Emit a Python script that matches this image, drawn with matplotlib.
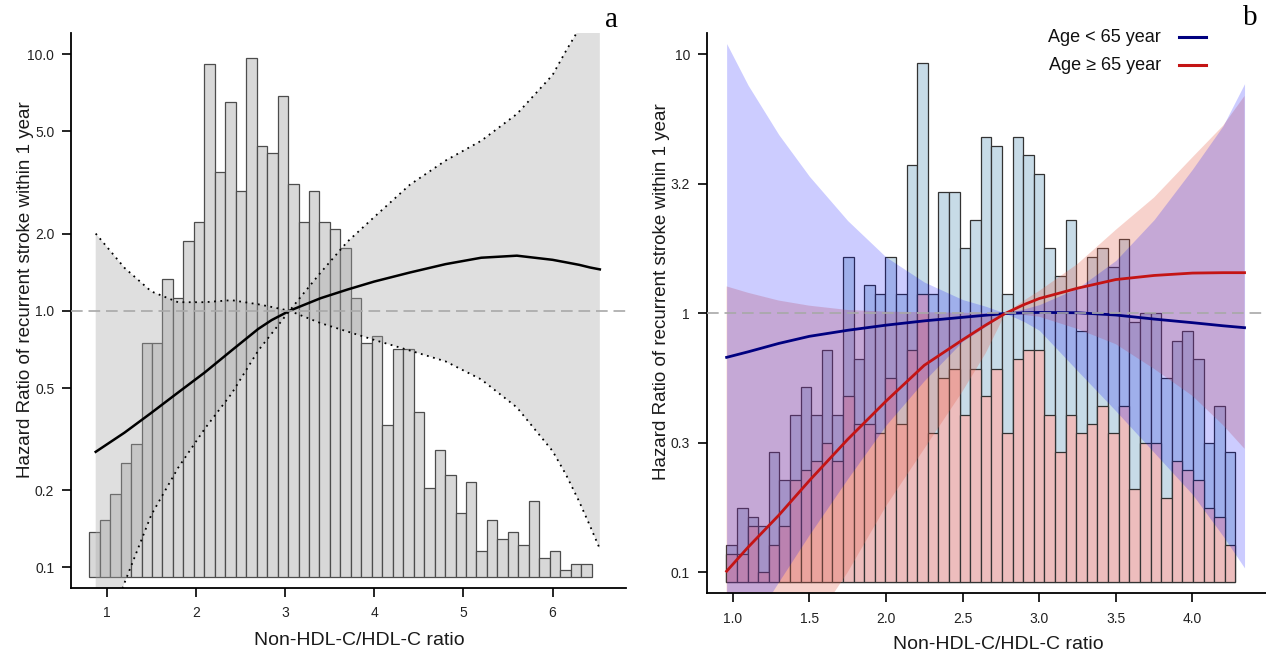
import numpy as np
import matplotlib
matplotlib.use('Agg')
from matplotlib import pyplot as plt
from matplotlib.lines import Line2D
from matplotlib.ticker import NullLocator

plt.rcParams['font.family'] = ['Liberation Sans', 'DejaVu Sans']

# ---------------- panel a : all patients ----------------
bins_a_lo, bins_a_hi = 0.804, 6.438
hist_a = [7, 9, 13, 18, 21, 37, 37, 47, 44, 53,
          56, 81, 64, 75, 61, 82, 68, 67, 76, 62,
          56, 61, 56, 55, 52, 44, 37, 38, 24, 36,
          36, 26, 14, 20, 16, 10, 15, 4, 9, 6,
          7, 5, 12, 3, 4, 1, 2, 2]

x_a = [0.877, 1.2, 1.5, 1.8, 2.1, 2.4, 2.7, 2.85, 3.05, 3.2, 3.4, 3.7,
       4.0, 4.4, 4.8, 5.2, 5.6, 6.0, 6.15, 6.3, 6.42, 6.53]
hr_a = [0.282, 0.335, 0.40, 0.48, 0.575, 0.70, 0.85, 0.92, 1.0, 1.05, 1.12, 1.21,
        1.30, 1.41, 1.52, 1.61, 1.64, 1.58, 1.545, 1.51, 1.475, 1.45]
ci_a_1 = [2.0, 1.47, 1.19, 1.08, 1.08, 1.10, 1.06, 1.035, 1.0, 0.953, 0.895, 0.83,
          0.77, 0.70, 0.635, 0.54, 0.42, 0.284, 0.23, 0.18, 0.145, 0.118]
ci_a_2 = [0.042, 0.087, 0.16, 0.244, 0.347, 0.475, 0.70, 0.815, 1.0, 1.16, 1.41, 1.86,
          2.32, 3.1, 3.85, 4.6, 5.85, 8.3, 10.3, 12.6, 15.5, 20.0]

# ---------------- panel b : by age group ----------------
bins_b_lo, bins_b_hi = 0.958, 4.28
hist_young = [4, 8, 7, 6, 14, 11, 18, 21, 18, 25,
              18, 35, 24, 32, 31, 35, 31, 45, 56, 31,
              42, 42, 36, 39, 48, 47, 31, 48, 46, 44,
              36, 33, 39, 27, 35, 36, 34, 37, 28, 29,
              29, 22, 26, 27, 24, 15, 19, 14]
hist_old = [3, 3, 6, 1, 4, 6, 11, 12, 13, 15,
            13, 20, 17, 17, 16, 22, 17, 25, 31, 16,
            22, 23, 18, 23, 20, 23, 16, 24, 25, 25,
            18, 14, 18, 16, 17, 19, 16, 19, 10, 15,
            15, 9, 13, 12, 11, 8, 7, 4]

x_b = [0.96, 1.1, 1.3, 1.5, 1.75, 2.0, 2.25, 2.5, 2.65, 2.78, 2.9, 3.0,
       3.25, 3.5, 3.75, 4.0, 4.2, 4.34]
hr_young = [0.676, 0.71, 0.765, 0.815, 0.86, 0.90, 0.935, 0.965, 0.983, 0.998, 1.005, 1.008,
            1.005, 0.985, 0.95, 0.92, 0.895, 0.88]
lo_young = [0.045, 0.06, 0.092, 0.14, 0.23, 0.37, 0.55, 0.78, 0.89, 1.0, 0.93, 0.86,
            0.60, 0.42, 0.29, 0.20, 0.138, 0.104]
hi_young = [11.0, 7.6, 4.9, 3.38, 2.28, 1.65, 1.32, 1.13, 1.065, 1.0, 1.04, 1.08,
            1.25, 1.6, 2.3, 3.6, 5.3, 7.7]
hr_old = [0.101, 0.125, 0.166, 0.226, 0.326, 0.458, 0.63, 0.79, 0.90, 1.0, 1.08, 1.14,
          1.25, 1.35, 1.40, 1.43, 1.435, 1.435]
lo_old = [0.019, 0.025, 0.039, 0.06, 0.10, 0.18, 0.30, 0.50, 0.70, 1.0, 0.985, 0.97,
          0.87, 0.76, 0.61, 0.48, 0.37, 0.30]
hi_old = [1.27, 1.2, 1.12, 1.07, 1.03, 1.015, 1.01, 1.005, 1.002, 1.0, 1.12, 1.22,
          1.55, 2.1, 2.8, 4.0, 5.3, 6.9]

xticks_a = [1, 2, 3, 4, 5, 6]
yticks_a = [0.1, 0.2, 0.5, 1.0, 2.0, 5.0, 10.0]
ylabels_a = ['0.1', '0.2', '0.5', '1.0', '2.0', '5.0', '10.0']
xticks_b = [1.0, 1.5, 2.0, 2.5, 3.0, 3.5, 4.0]
yticks_b = [10 ** -1, 10 ** -0.5, 1, 10 ** 0.5, 10]
ylabels_b = ['0.1', '0.3', '1', '3.2', '10']

ylab = 'Hazard Ratio of recurrent stroke within 1 year'
xlab = 'Non-HDL-C/HDL-C ratio'
W, H = 1266, 653


def style_axes(ax, xlim, ylim, xticks, xlabels, yticks, ylabels):
    ax.set_yscale('log')
    ax.set_xlim(*xlim)
    ax.set_ylim(*ylim)
    ax.set_xticks(xticks)
    ax.set_xticklabels(xlabels)
    ax.set_yticks(yticks)
    ax.set_yticklabels(ylabels)
    ax.yaxis.set_minor_locator(NullLocator())
    for s in ['top', 'right']:
        ax.spines[s].set_visible(False)
    for s in ['left', 'bottom']:
        ax.spines[s].set_linewidth(1.3)
    ax.tick_params(axis='both', direction='out', length=6.5, width=1.2,
                   labelsize=10, labelcolor='#222222')
    ax.tick_params(axis='y', pad=5.5)
    ax.tick_params(axis='x', pad=7.0)
    ax.patch.set_visible(False)


fig = plt.figure(figsize=(W / 100, H / 100), dpi=100)

# ---- left panel ----
ax_a = fig.add_axes([71 / W, 1 - 587.7 / H, (625.7 - 71) / W, (587.7 - 33) / H])
hx_a = ax_a.twinx()
edges_a = np.linspace(bins_a_lo, bins_a_hi, len(hist_a) + 1)
hx_a.bar(edges_a[:-1], hist_a, width=np.diff(edges_a), align='edge',
         color='#d8d8d8', edgecolor='#4d4d4d', linewidth=0.9)
hx_a.set_ylim(-1.74, 85.9)
hx_a.axis('off')
ax_a.set_zorder(hx_a.get_zorder() + 1)

ax_a.fill_between(x_a, ci_a_1, ci_a_2, color='#a8a8a8', alpha=0.36, lw=0)
ax_a.plot(x_a, ci_a_1, color='black', lw=1.3, ls=(0, (1, 2.5)))
ax_a.plot(x_a, ci_a_2, color='black', lw=1.3, ls=(0, (1, 2.5)))
ax_a.plot(x_a, hr_a, color='black', lw=1.8)
ax_a.axhline(1, color='#a8a8a8', lw=1.2, ls=(0, (7, 3.5)), zorder=5)
style_axes(ax_a, (0.60, 6.82), (0.0833, 12.1), xticks_a,
           [str(t) for t in xticks_a], yticks_a, ylabels_a)

# ---- right panel ----
ax_b = fig.add_axes([706.7 / W, 1 - 593.3 / H, (W - 706.7) / W, (593.3 - 33.3) / H])
hx_b = ax_b.twinx()
edges_b = np.linspace(bins_b_lo, bins_b_hi, len(hist_young) + 1)
hx_b.bar(edges_b[:-1], hist_young, width=np.diff(edges_b), align='edge',
         color='#c7dbe7', edgecolor='#333333', linewidth=0.9)
hx_b.bar(edges_b[:-1], hist_old, width=np.diff(edges_b), align='edge',
         color='#edbdbd', edgecolor='#333333', linewidth=0.9)
hx_b.set_ylim(-1.25, 59.16)
hx_b.axis('off')
ax_b.set_zorder(hx_b.get_zorder() + 1)

ax_b.fill_between(x_b, lo_old, hi_old, color='#e4604a', alpha=0.28, lw=0)
ax_b.fill_between(x_b, lo_young, hi_young, color='#0000ff', alpha=0.2, lw=0)
ax_b.plot(x_b, hr_young, color='#00007f', lw=2.0)
ax_b.plot(x_b, hr_old, color='#c41414', lw=2.0)
ax_b.axhline(1, color='#a8a8a8', lw=1.2, ls=(0, (7, 3.5)), zorder=5)
style_axes(ax_b, (0.83, 4.48), (0.083, 12.05), xticks_b,
           ['%.1f' % t for t in xticks_b], yticks_b, ylabels_b)

# legend of panel b
for label, col, yy in [('Age < 65 year', '#00007f', 37),
                       ('Age \u2265 65 year', '#c41414', 65)]:
    fig.text(1161 / W, 1 - yy / H, label, ha='right', va='center',
             fontsize=13, color='#111111')
    fig.add_artist(Line2D([1179 / W, 1206 / W], [1 - yy / H, 1 - yy / H],
                          color=col, lw=2.2))

# axis titles
for xc, yb in [(359.7, 645), (998, 649)]:
    fig.text(xc / W, 1 - yb / H, xlab, ha='center', va='baseline',
             fontsize=14, color='#1a1a1a')
for xb, yc in [(30, 290), (666, 291.7)]:
    fig.text(xb / W, 1 - yc / H, ylab, rotation=90, rotation_mode='anchor',
             ha='center', va='baseline', fontsize=13.5, color='#1a1a1a')

serif = ['Liberation Serif', 'DejaVu Serif']
fig.text(612 / W, 1 - 20 / H, 'a', family=serif, fontsize=21, ha='center', va='center')
fig.text(1250 / W, 1 - 18 / H, 'b', family=serif, fontsize=21, ha='center', va='center')

fig.savefig('out.png', dpi=100, facecolor='white')
